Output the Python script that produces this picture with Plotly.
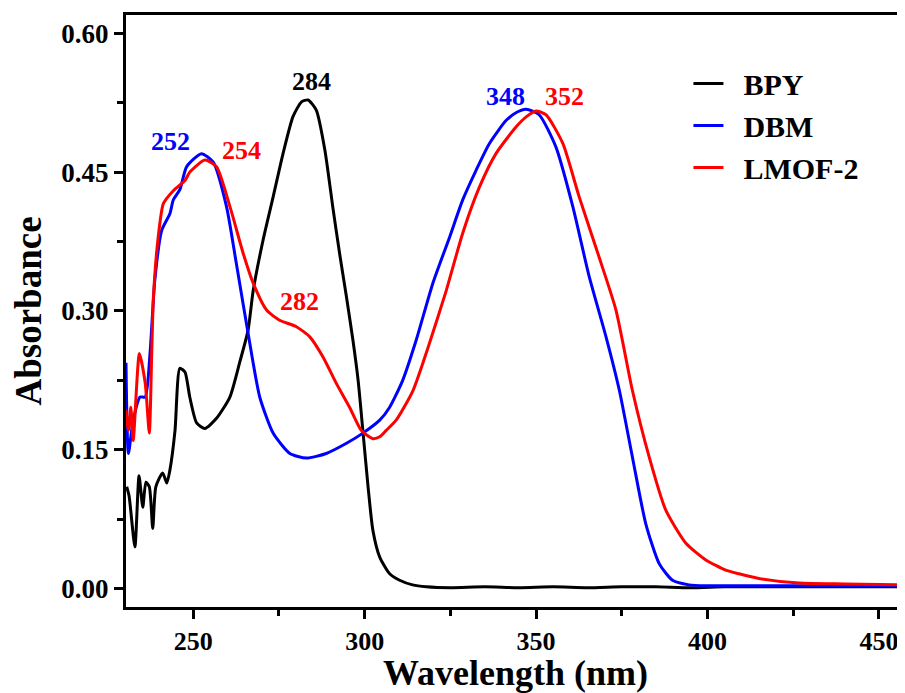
import plotly.graph_objects as go

# BPY (black)
bpy_x = [230.6, 231.3, 233.0, 234.2, 235.3, 236.2, 237.2, 238.2, 239.1, 241.1, 242.3, 243.2, 244.7,
         246.1, 247.6, 249.0, 251.0, 253.4, 256.8, 260.7, 263.6, 266.0, 267.5, 270.4, 273.3, 276.2,
         279.1, 281.6, 283.5, 285.9, 288.4, 290.8, 292.7, 294.7, 296.6, 298.1, 299.5, 301.0, 302.4,
         304.4, 307.3, 310.2, 314.0, 318.0, 325.0, 335.0, 345.0, 355.0, 365.0, 375.0, 385.0, 395.0,
         405.0, 415.0, 425.0, 435.0, 445.0, 458.0]
bpy_y = [0.110, 0.100, 0.045, 0.122, 0.088, 0.115, 0.110, 0.065, 0.110, 0.125, 0.114, 0.128, 0.171,
         0.238, 0.234, 0.207, 0.179, 0.173, 0.184, 0.207, 0.245, 0.279, 0.322, 0.377, 0.423, 0.470,
         0.510, 0.526, 0.528, 0.517, 0.474, 0.410, 0.362, 0.315, 0.268, 0.225, 0.170, 0.110, 0.063,
         0.034, 0.016, 0.009, 0.004, 0.002, 0.001, 0.002, 0.001, 0.002, 0.001, 0.002, 0.002, 0.001,
         0.002, 0.002, 0.002, 0.002, 0.002, 0.002]

# DBM (blue)
dbm_x = [230.4, 231.1, 232.5, 234.5, 236.0, 237.4, 238.8, 240.8, 243.2, 244.2, 246.1, 248.1, 252.4,
         255.8, 259.7, 262.6, 266.5, 269.4, 273.3, 278.2, 283.0, 288.8, 294.7, 299.5, 304.4, 307.3,
         311.1, 315.0, 319.9, 324.8, 328.6, 332.5, 336.4, 341.3, 344.5, 347.1, 350.9, 355.8, 360.7,
         365.5, 370.4, 374.3, 378.1, 382.0, 385.9, 389.8, 394.6, 400.0, 410.0, 420.0, 430.0, 440.0,
         458.0]
dbm_y = [0.244, 0.146, 0.182, 0.207, 0.207, 0.254, 0.333, 0.387, 0.405, 0.420, 0.431, 0.456, 0.470,
         0.461, 0.413, 0.351, 0.265, 0.207, 0.168, 0.146, 0.141, 0.146, 0.157, 0.168, 0.182, 0.196,
         0.225, 0.268, 0.330, 0.380, 0.420, 0.452, 0.481, 0.506, 0.515, 0.518, 0.512, 0.477, 0.413,
         0.337, 0.272, 0.214, 0.142, 0.070, 0.027, 0.009, 0.004, 0.003, 0.003, 0.003, 0.003, 0.003,
         0.003]

# LMOF-2 (red)
lmof_x = [230.4, 231.1, 231.8, 232.5, 234.3, 236.0, 237.2, 237.9, 238.4, 239.8, 241.3, 244.2, 247.6,
          249.0, 253.4, 256.8, 260.7, 264.6, 267.5, 271.4, 275.2, 280.1, 284.0, 287.9, 291.7, 295.6,
          299.0, 302.4, 304.4, 306.3, 309.2, 314.1, 318.9, 323.8, 328.6, 333.5, 338.3, 344.2, 347.2,
          350.0, 352.9, 357.8, 362.6, 368.4, 373.3, 378.1, 383.0, 387.8, 393.7, 399.5, 405.3, 409.2,
          415.0, 426.7, 440.0, 458.0]
lmof_y = [0.193, 0.171, 0.196, 0.160, 0.254, 0.222, 0.168, 0.254, 0.315, 0.380, 0.416, 0.430, 0.441,
          0.450, 0.463, 0.456, 0.413, 0.362, 0.330, 0.301, 0.290, 0.283, 0.272, 0.250, 0.222, 0.196,
          0.171, 0.162, 0.164, 0.171, 0.182, 0.214, 0.265, 0.322, 0.384, 0.434, 0.470, 0.499, 0.510,
          0.516, 0.512, 0.481, 0.423, 0.358, 0.301, 0.214, 0.142, 0.085, 0.049, 0.031, 0.020, 0.016,
          0.011, 0.006, 0.005, 0.004]

# peak labels
peak_text = ["284", "252", "254", "282", "348", "352"]
peak_x = [284.6, 243.5, 264.2, 281.1, 341.1, 358.2]
peak_y = [0.548, 0.483, 0.473, 0.310, 0.532, 0.532]
peak_col = ["black", "blue", "red", "red", "blue", "red"]

FONT = "Liberation Serif"

fig = go.Figure()
fig.add_trace(go.Scatter(x=bpy_x, y=bpy_y, mode="lines", name="\u2002<b>BPY</b>",
                         line=dict(color="black", width=3, shape="spline", smoothing=0.6)))
fig.add_trace(go.Scatter(x=dbm_x, y=dbm_y, mode="lines", name="\u2002<b>DBM</b>",
                         line=dict(color="#0000ff", width=3, shape="spline", smoothing=0.6)))
fig.add_trace(go.Scatter(x=lmof_x, y=lmof_y, mode="lines", name="\u2002<b>LMOF-2</b>",
                         line=dict(color="#ff0000", width=3, shape="spline", smoothing=0.6)))

for t, x, y, c in zip(peak_text, peak_x, peak_y, peak_col):
    fig.add_annotation(x=x, y=y, text="<b>%s</b>" % t, showarrow=False,
                       font=dict(family=FONT, size=26, color=c))

# page has an 8px body margin, so the figure is a bit smaller than the window
fig.update_xaxes(
    range=[230.4, 457.6], tickvals=[250, 300, 350, 400, 450],
    ticks="outside", ticklen=9, tickwidth=3, tickcolor="black",
    minor=dict(tickvals=[275, 325, 375, 425], ticks="outside", ticklen=6, tickwidth=3, tickcolor="black"),
    showline=True, linewidth=3, linecolor="black", mirror=True, showgrid=False, zeroline=False,
    tickfont=dict(family=FONT, size=26, color="black", weight="bold"),
    title=dict(text="<b>Wavelength (nm)</b>", font=dict(family=FONT, size=36, color="black")),
    automargin=False,
)
fig.update_yaxes(
    range=[-0.0199, 0.6198], tickvals=[0.0, 0.15, 0.30, 0.45, 0.60], tickformat=".2f",
    ticks="outside", ticklen=9, tickwidth=3, tickcolor="black",
    minor=dict(tickvals=[0.075, 0.225, 0.375, 0.525], ticks="outside", ticklen=6, tickwidth=3, tickcolor="black"),
    showline=True, linewidth=3, linecolor="black", showgrid=False, zeroline=False,
    tickfont=dict(family=FONT, size=27, color="black", weight="bold"),
    title=dict(text="<b>Absorbance</b>", font=dict(family=FONT, size=37, color="black"), standoff=14),
    automargin=False,
)

fig.update_layout(
    width=897, height=685,
    margin=dict(l=118, r=0, t=7, b=86),
    plot_bgcolor="white", paper_bgcolor="white",
    font=dict(family=FONT, color="black"),
    legend=dict(x=0.722, y=0.928, xanchor="left", yanchor="top", bgcolor="rgba(0,0,0,0)",
                font=dict(family=FONT, size=30, color="black"), tracegroupgap=0),
    showlegend=True,
)

fig.write_html("out.html")
